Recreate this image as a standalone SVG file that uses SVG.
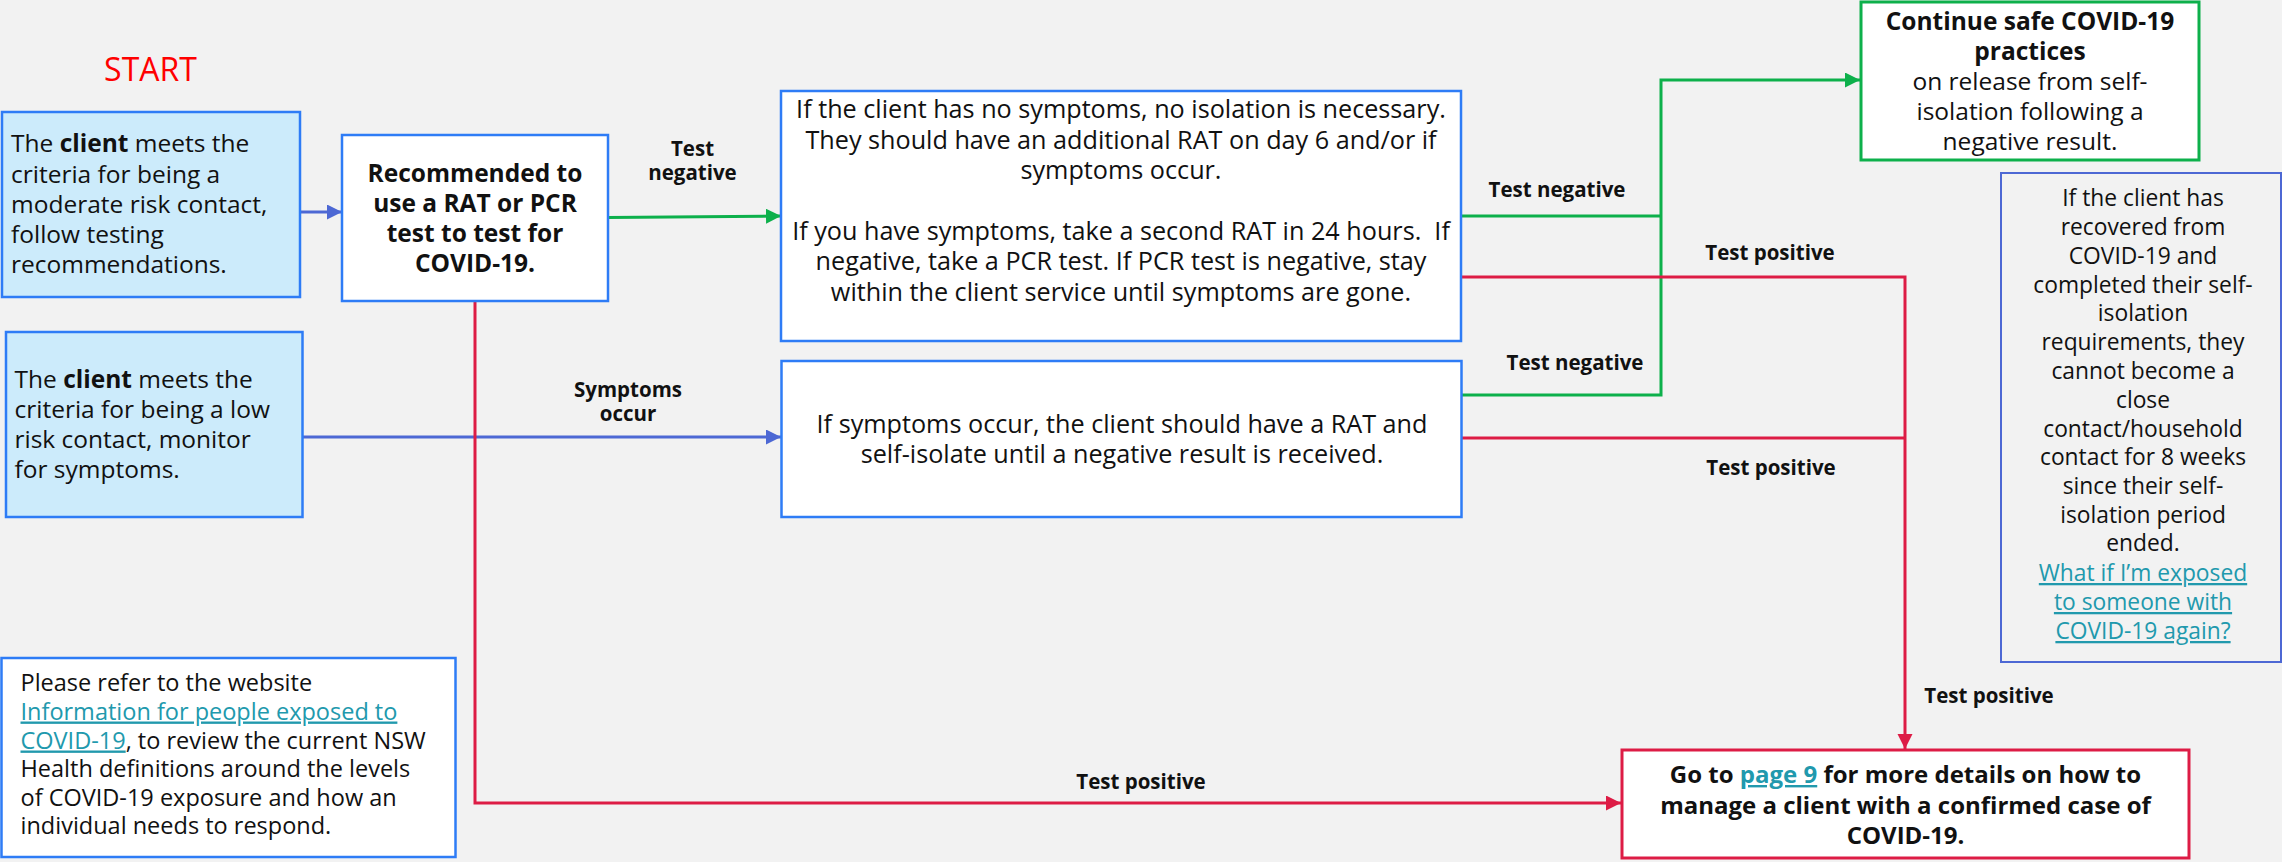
<svg xmlns="http://www.w3.org/2000/svg" width="2282" height="862" viewBox="0 0 2282 862">
<style>
text{font-family:"Open Sans","Liberation Sans",sans-serif;fill:#111}
.t{font-size:24.5px}
.m{font-size:25.2px}
.c{text-anchor:middle}
.b{font-weight:700}
.lbl{font-size:20.5px;font-weight:700;text-anchor:middle}
.lnk{fill:#2199AD;text-decoration:underline}
.blue{fill:#CCEBFB;stroke:#2E7CF6;stroke-width:2.5}
.wb{fill:#fff;stroke:#2E7CF6;stroke-width:2.5}
.con{fill:none;stroke-width:3}
.g{stroke:#0DB04B}
.r{stroke:#DD1C45}
.p{stroke:#4D68D4}
</style>
<defs>
<marker id="ag" markerUnits="userSpaceOnUse" markerWidth="16" markerHeight="16" refX="15" refY="7.5" orient="auto"><path d="M0,0 L15,7.5 L0,15 z" fill="#0DB04B"/></marker>
<marker id="ar" markerUnits="userSpaceOnUse" markerWidth="16" markerHeight="16" refX="15" refY="7.5" orient="auto"><path d="M0,0 L15,7.5 L0,15 z" fill="#DD1C45"/></marker>
<marker id="ap" markerUnits="userSpaceOnUse" markerWidth="16" markerHeight="16" refX="15" refY="7.5" orient="auto"><path d="M0,0 L15,7.5 L0,15 z" fill="#4D68D4"/></marker>
</defs>
<rect width="2282" height="862" fill="#F2F2F2"/>

<g id="start"><text x="150.5" y="81" class="c" style="font-size:32px;fill:#FF0000">START</text></g>

<g id="connectors">
<path class="con p" d="M300,212 H342" marker-end="url(#ap)"/>
<path class="con p" d="M302.5,437 H781" marker-end="url(#ap)"/>
<path class="con r" d="M475,301 V803 H1621" marker-end="url(#ar)"/>
<path class="con g" d="M608,217.5 L781,216" marker-end="url(#ag)"/>
<path class="con g" d="M1461,216 H1661"/>
<path class="con g" d="M1461,395 H1661 V80 H1860" marker-end="url(#ag)"/>
<path class="con r" d="M1461,277 H1905 V749" marker-end="url(#ar)"/>
<path class="con r" d="M1461,438 H1905"/>
<text x="692.5" y="156" class="lbl">Test</text>
<text x="692.5" y="180" class="lbl">negative</text>
<text x="628" y="397" class="lbl">Symptoms</text>
<text x="628" y="421" class="lbl">occur</text>
<text x="1557" y="197" class="lbl">Test negative</text>
<text x="1770" y="260" class="lbl">Test positive</text>
<text x="1575" y="370" class="lbl">Test negative</text>
<text x="1771" y="475" class="lbl">Test positive</text>
<text x="1989" y="703" class="lbl">Test positive</text>
<text x="1141" y="789" class="lbl">Test positive</text>
</g>

<g id="moderate">
<rect class="blue" x="2" y="112" width="298" height="185"/>
<text class="t" x="11" y="152">The <tspan class="b">client</tspan> meets the</text>
<text class="t" x="11" y="182.5">criteria for being a</text>
<text class="t" x="11" y="213">moderate risk contact,</text>
<text class="t" x="11" y="243">follow testing</text>
<text class="t" x="11" y="273">recommendations.</text>
</g>

<g id="low">
<rect class="blue" x="6" y="332" width="296.5" height="185"/>
<text class="t" x="14.5" y="388">The <tspan class="b">client</tspan> meets the</text>
<text class="t" x="14.5" y="418">criteria for being a low</text>
<text class="t" x="14.5" y="448">risk contact, monitor</text>
<text class="t" x="14.5" y="478">for symptoms.</text>
</g>

<g id="recommend">
<rect class="wb" x="342" y="135" width="266" height="166"/>
<text class="t c b" x="475" y="182">Recommended to</text>
<text class="t c b" x="475" y="212">use a RAT or PCR</text>
<text class="t c b" x="475" y="242">test to test for</text>
<text class="t c b" x="475" y="272">COVID-19.</text>
</g>

<g id="nosymptoms">
<rect class="wb" x="781" y="91" width="680" height="250"/>
<text class="m c" x="1121" y="118">If the client has no symptoms, no isolation is necessary.</text>
<text class="m c" x="1121" y="148.5">They should have an additional RAT on day 6 and/or if</text>
<text class="m c" x="1121" y="178.5">symptoms occur.</text>
<text class="m c" x="1121" y="239.5" xml:space="preserve">If you have symptoms, take a second RAT in 24 hours.  If</text>
<text class="m c" x="1121" y="270">negative, take a PCR test. If PCR test is negative, stay</text>
<text class="m c" x="1121" y="300.5">within the client service until symptoms are gone.</text>
</g>

<g id="symptomsoccur">
<rect class="wb" x="781.5" y="361" width="680" height="156"/>
<text class="m c" x="1122" y="433">If symptoms occur, the client should have a RAT and</text>
<text class="m c" x="1122" y="463">self-isolate until a negative result is received.</text>
</g>

<g id="continue">
<rect x="1861" y="2" width="338" height="158" fill="#fff" stroke="#0DB04B" stroke-width="3"/>
<text class="t c b" x="2030" y="29.5">Continue safe COVID-19</text>
<text class="t c b" x="2030" y="59.5">practices</text>
<text class="t c" x="2030" y="89.5">on release from self-</text>
<text class="t c" x="2030" y="119.5">isolation following a</text>
<text class="t c" x="2030" y="149.5">negative result.</text>
</g>

<g id="recovered">
<rect x="2001" y="173" width="280" height="489" fill="none" stroke="#4D68D4" stroke-width="2"/>
<g style="font-size:22.8px">
<text class="c" x="2143" y="206">If the client has</text>
<text class="c" x="2143" y="235">recovered from</text>
<text class="c" x="2143" y="264">COVID-19 and</text>
<text class="c" x="2143" y="292.5">completed their self-</text>
<text class="c" x="2143" y="321">isolation</text>
<text class="c" x="2143" y="350">requirements, they</text>
<text class="c" x="2143" y="379">cannot become a</text>
<text class="c" x="2143" y="407.5">close</text>
<text class="c" x="2143" y="436.5">contact/household</text>
<text class="c" x="2143" y="465">contact for 8 weeks</text>
<text class="c" x="2143" y="494">since their self-</text>
<text class="c" x="2143" y="522.5">isolation period</text>
<text class="c" x="2143" y="551">ended.</text>
<text class="c lnk" x="2143" y="581">What if I’m exposed</text>
<text class="c lnk" x="2143" y="610">to someone with</text>
<text class="c lnk" x="2143" y="639">COVID-19 again?</text>
</g>
</g>

<g id="refer">
<rect class="wb" x="1.5" y="658" width="454" height="199"/>
<g style="font-size:23.5px">
<text x="20.5" y="691">Please refer to the website</text>
<text x="20.5" y="719.5" class="lnk">Information for people exposed to</text>
<text x="20.5" y="748.5"><tspan class="lnk">COVID-19</tspan>, to review the current NSW</text>
<text x="20.5" y="777">Health definitions around the levels</text>
<text x="20.5" y="806">of COVID-19 exposure and how an</text>
<text x="20.5" y="834">individual needs to respond.</text>
</g>
</g>

<g id="confirmed">
<rect x="1622" y="750" width="567" height="108" fill="#fff" stroke="#DD1C45" stroke-width="3"/>
<g style="font-size:24px">
<text class="c b" x="1905.5" y="783">Go to <tspan class="lnk">page 9</tspan> for more details on how to</text>
<text class="c b" x="1905.5" y="813.5">manage a client with a confirmed case of</text>
<text class="c b" x="1905.5" y="844">COVID-19.</text>
</g>
</g>
</svg>
